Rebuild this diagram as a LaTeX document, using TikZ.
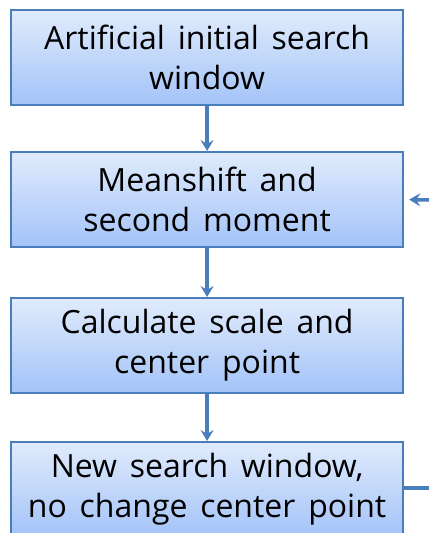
\documentclass[tikz,border=0pt]{standalone}
\usepackage{fontspec}
\setmainfont{Open Sans}
\usetikzlibrary{arrows.meta,shadings}
\definecolor{bord}{HTML}{4A7EBB}
\definecolor{topc}{HTML}{E0EBFC}
\definecolor{botc}{HTML}{A3C3F8}
\newcommand{\boxfont}{\fontsize{32}{40}\selectfont\spaceskip=0.4em plus 0.1em\relax}
\tikzset{
  stepbox/.style={draw=bord, line width=2.2pt, top color=topc, bottom color=botc,
    minimum width=392pt, minimum height=95pt, inner sep=0pt, align=center,
    font=\boxfont, anchor=north west},
  conn/.style={draw=bord, line width=3.5pt, -{Stealth[length=11pt,width=13pt,inset=4pt]}},
  plain/.style={draw=bord, line width=3.5pt}
}
\begin{document}
\begin{tikzpicture}[x=1pt,y=-1pt]
\useasboundingbox (0,0) rectangle (429,533);
\node[stepbox] (b1) at (10,9) {Artificial initial search\\window};
\node[stepbox] (b2) at (10,151) {Meanshift and\\second moment};
\node[stepbox] (b3) at (10,297) {Calculate scale and\\center point};
\node[stepbox] (b4) at (10,441) {New search window,\\no change center point};
\draw[conn] (b1.south) -- (b2.north);
\draw[conn] (b2.south) -- (b3.north);
\draw[conn] (b3.south) -- (b4.north);
\coordinate (r2) at (429,200);
\coordinate (r4) at (429,488);
\draw[conn] (r2) -- ([xshift=5pt]b2.east);
\draw[plain] ([yshift=0pt]b4.east |- r4) -- (r4);
\end{tikzpicture}
\end{document}
